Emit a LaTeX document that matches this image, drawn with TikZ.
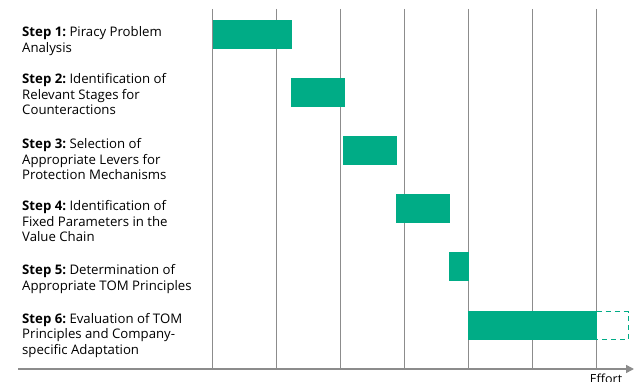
\documentclass[tikz,border=0pt]{standalone}
\usepackage{fontspec}
\setmainfont{Open Sans}
\usetikzlibrary{arrows.meta}
\definecolor{barGreen}{RGB}{0,172,134}
\definecolor{gridGrey}{RGB}{140,140,140}
\tikzset{
  gridline/.style={draw=gridGrey, line width=1.5pt},
  axisline/.style={draw=gridGrey, line width=1.5pt, -{Triangle[length=8pt,width=8pt]}},
  bar/.style={fill=barGreen},
  openbar/.style={draw=barGreen, line width=1.3pt, dash pattern=on 5pt off 4pt},
  steptext/.style={anchor=base west, inner sep=0pt, font=\fontsize{13.2}{15.5}\selectfont},
}
\newcommand{\steplabel}[2]{\parbox[t]{200pt}{\raggedright\textbf{#1}~#2}}
\begin{document}
\begin{tikzpicture}[x=1pt, y=-1pt]
  \useasboundingbox (0,0) rectangle (642,382);

  % time axis
  \coordinate (axL) at (18,369);
  \coordinate (axR) at (634,369);

  % vertical phase grid
  \foreach \i/\x in {0/212.7,1/276.7,2/340.7,3/404.7,4/468.7,5/532.7,6/596.7} {
    \coordinate (gt\i) at (\x,9);
    \coordinate (gb\i) at (\x,369);
    \draw[gridline] (gt\i) -- (gb\i);
  }
  \draw[axisline] (axL) -- (axR);
  \node[anchor=north, inner sep=0pt, font=\fontsize{12.5}{14}\selectfont] (effort) at (606,373.5) {Effort};

  % activity bars
  \fill[bar] (212.7,19.7) rectangle (292.3,48.7);
  \fill[bar] (290.7,78)   rectangle (345,106.7);
  \fill[bar] (343.3,136)  rectangle (397,165);
  \fill[bar] (396,194.3)  rectangle (450,223.3);
  \fill[bar] (448.7,252.3) rectangle (468.7,281.3);
  \fill[bar] (467.7,311)  rectangle (596.7,340);
  \draw[openbar] (596.7,311.6) -- (628.3,311.6) -- (628.3,339.4) -- (596.7,339.4);

  % step descriptions
  \node[steptext] (s1) at (22,37)    {\steplabel{Step 1:}{Piracy Problem\\Analysis}};
  \node[steptext] (s2) at (22,84)    {\steplabel{Step 2:}{Identification of\\Relevant Stages for\\Counteractions}};
  \node[steptext] (s3) at (22,149)   {\steplabel{Step 3:}{Selection of\\Appropriate Levers for\\Protection Mechanisms}};
  \node[steptext] (s4) at (22,211)   {\steplabel{Step 4:}{Identification of\\Fixed Parameters in the\\Value Chain}};
  \node[steptext] (s5) at (22,274.5) {\steplabel{Step 5:}{Determination of\\Appropriate TOM Principles}};
  \node[steptext] (s6) at (22,323)   {\steplabel{Step 6:}{Evaluation of TOM\\Principles and Company-\\specific Adaptation}};
\end{tikzpicture}
\end{document}
